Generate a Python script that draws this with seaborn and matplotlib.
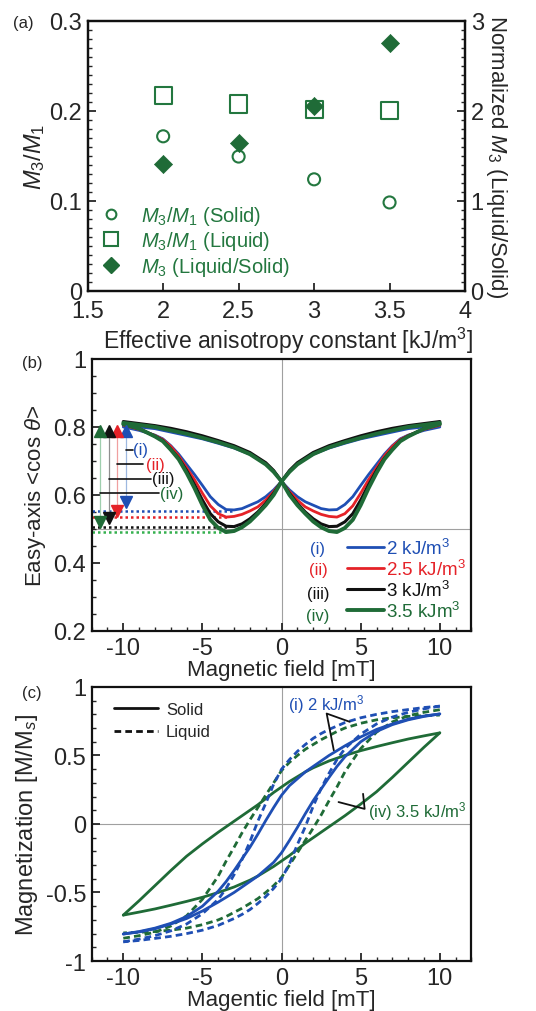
import numpy as np
import matplotlib
matplotlib.use('Agg')
import matplotlib.pyplot as plt
import seaborn as sns
from matplotlib.lines import Line2D
from matplotlib.ticker import MultipleLocator

# ---- panel (a) ----
K_CONST = [2.0, 2.5, 3.0, 3.5]
RATIO_SOLID = [0.1715, 0.149, 0.1237, 0.098]
RATIO_LIQUID = [0.217, 0.2074, 0.2015, 0.200]
M3_NORM = [1.41, 1.64, 2.05, 2.75]

# ---- panel (b): <cos theta>, field swept upward (the down sweep is the mirror) ----
FIELD_B = [-10, -9, -8, -7, -6, -5, -4, -3, -2, -1, -0.5,
           0, 0.5, 1, 1.5, 2, 2.5, 3, 3.5, 4, 4.5, 5, 5.5, 6, 6.5, 7, 7.5, 8, 9, 10]
COS_2 = [0.803, 0.800, 0.795, 0.785, 0.775, 0.765, 0.752, 0.738, 0.720, 0.692, 0.670,
         0.640, 0.615, 0.595, 0.580, 0.570, 0.560, 0.556, 0.557, 0.572, 0.595, 0.628,
         0.660, 0.690, 0.720, 0.745, 0.765, 0.776, 0.790, 0.800]
COS_25 = [0.810, 0.806, 0.800, 0.792, 0.782, 0.770, 0.757, 0.742, 0.722, 0.693, 0.670,
          0.640, 0.610, 0.585, 0.565, 0.553, 0.543, 0.537, 0.535, 0.545, 0.568, 0.605,
          0.645, 0.680, 0.715, 0.743, 0.763, 0.775, 0.793, 0.805]
COS_3 = [0.816, 0.810, 0.804, 0.796, 0.786, 0.774, 0.760, 0.745, 0.725, 0.695, 0.672,
         0.640, 0.605, 0.575, 0.550, 0.530, 0.515, 0.507, 0.508, 0.521, 0.545, 0.585,
         0.630, 0.672, 0.708, 0.735, 0.760, 0.773, 0.795, 0.808]
COS_35 = [0.812, 0.806, 0.800, 0.790, 0.780, 0.768, 0.755, 0.740, 0.720, 0.690, 0.668,
          0.640, 0.600, 0.570, 0.545, 0.522, 0.505, 0.494, 0.491, 0.503, 0.527, 0.570,
          0.620, 0.665, 0.705, 0.733, 0.758, 0.772, 0.795, 0.808]
K_LABELS = ['2 kJ/m$^3$', '2.5 kJ/m$^3$', '3 kJ/m$^3$', '3.5 kJm$^3$']
ROMAN = ['(i)', '(ii)', '(iii)', '(iv)']
MIN_COS = [0.553, 0.535, 0.507, 0.491]
MIN_FIELD = [-3.1, -3.4, -3.3, -3.4]
ARROW_X = [-9.85, -10.38, -10.9, -11.47]
ARROW_TOP = 0.788
ARROW_BOTTOM = [0.578, 0.553, 0.531, 0.521]
ROMAN_Y = [0.733, 0.691, 0.647, 0.605]
ROMAN_LINE_END = [-9.4, -8.76, -8.28, -7.77]
ROMAN_TEXT_X = [-8.9, -7.98, -7.45, -6.95]
LEGEND_ROW_Y = [0.4415, 0.380, 0.310, 0.246]

# ---- panel (c): magnetisation, field swept downward (up sweep is point mirror) ----
FIELD_C = [-10, -9, -8, -7, -6, -5, -4, -3.5, -3, -2.5, -2, -1.5, -1, -0.5,
           0, 0.5, 1, 1.5, 2, 2.5, 3, 3.5, 4, 5, 6, 7, 8, 9, 10]
M_SOLID_2 = [-0.803, -0.785, -0.760, -0.725, -0.675, -0.600, -0.490, -0.420, -0.340,
             -0.255, -0.170, -0.075, 0.025, 0.120, 0.210, 0.280, 0.330, 0.380, 0.420,
             0.460, 0.500, 0.535, 0.570, 0.635, 0.690, 0.730, 0.765, 0.788, 0.803]
M_LIQUID_2 = [-0.860, -0.840, -0.815, -0.780, -0.730, -0.655, -0.550, -0.470, -0.370,
              -0.260, -0.130, 0.020, 0.150, 0.290, 0.400, 0.470, 0.530, 0.580, 0.625,
              0.660, 0.690, 0.715, 0.740, 0.775, 0.800, 0.820, 0.835, 0.850, 0.860]
M_SOLID_35 = [-0.665, -0.560, -0.450, -0.340, -0.235, -0.145, -0.060, -0.020, 0.020,
              0.060, 0.100, 0.140, 0.185, 0.230, 0.270, 0.310, 0.345, 0.380, 0.410,
              0.435, 0.460, 0.480, 0.500, 0.535, 0.565, 0.593, 0.620, 0.643, 0.665]
M_LIQUID_35 = [-0.834, -0.815, -0.790, -0.745, -0.670, -0.550, -0.380, -0.270, -0.170,
               -0.065, 0.030, 0.120, 0.210, 0.300, 0.390, 0.450, 0.500, 0.545, 0.580,
               0.615, 0.645, 0.675, 0.700, 0.735, 0.760, 0.775, 0.785, 0.790, 0.795]

GREEN_A = '#23773f'
BLUE = '#1f4fb4'
RED = '#e52228'
BLACK = '#111111'
GREEN = '#1f6b37'
GREEN_DOT = '#35b04f'
DASH = (0, (2.4, 1.5))

sns.set_style('ticks')
plt.rcParams['font.family'] = ['Liberation Sans', 'DejaVu Sans']
plt.rcParams['mathtext.fontset'] = 'custom'
plt.rcParams['mathtext.rm'] = 'Liberation Sans'
plt.rcParams['mathtext.it'] = 'Liberation Sans:italic'
plt.rcParams['axes.unicode_minus'] = False

TICK_FS = 17
LABEL_FS = 16


def style_axis(ax):
    ax.tick_params(which='both', direction='in')
    ax.tick_params(which='major', length=6, width=1.3, labelsize=TICK_FS, pad=4)
    ax.tick_params(which='minor', length=3, width=1.0)
    for s in ax.spines.values():
        s.set_linewidth(1.6)
        s.set_color('#111111')


fig = plt.figure(figsize=(5.36, 10.12), dpi=100)

# ================= (a) =================
ax_a = fig.add_axes([0.1636, 0.7118, 0.704, 0.2668])
sns.scatterplot(x=K_CONST, y=RATIO_SOLID, ax=ax_a, marker='o', s=75,
                facecolor='none', edgecolor=GREEN_A, linewidth=1.5)
sns.scatterplot(x=K_CONST, y=RATIO_LIQUID, ax=ax_a, marker='s', s=150,
                facecolor='none', edgecolor=GREEN_A, linewidth=1.5)
ax_a.set_xlim(1.5, 4)
ax_a.set_ylim(0, 0.3)
ax_a.yaxis.set_minor_locator(MultipleLocator(0.01))
ax_a.set_xticks([1.5, 2, 2.5, 3, 3.5, 4])
ax_a.set_xticklabels(['1.5', '2', '2.5', '3', '3.5', '4'])
ax_a.set_yticks([0, 0.1, 0.2, 0.3])
ax_a.set_yticklabels(['0', '0.1', '0.2', '0.3'])
ax_a.set_xlabel('Effective anisotropy constant [kJ/m$^3$]', fontsize=16.5)
style_axis(ax_a)
ax_a.tick_params(axis='x', which='major', pad=7)
ax_a.xaxis.set_label_coords(0.53, -0.125)
ax_a.set_ylabel('$M_3/M_1$', fontsize=17, labelpad=2)

ax_a2 = ax_a.twinx()
sns.scatterplot(x=K_CONST, y=M3_NORM, ax=ax_a2, marker='D', s=85,
                color=GREEN, edgecolor=GREEN, linewidth=0.5)
ax_a2.set_ylim(0, 3)
ax_a2.yaxis.set_minor_locator(MultipleLocator(0.1))
ax_a2.set_yticks([0, 1, 2, 3])
ax_a2.set_yticklabels(['0', '1', '2', '3'])
ax_a2.set_ylabel('Normalized $M_3$ (Liquid/Solid)', fontsize=16,
                 rotation=270, labelpad=18)
style_axis(ax_a2)
ax_a2.tick_params(axis='x', which='both', top=False)

handles_a = [
    Line2D([], [], ls='none', marker='o', ms=7, mfc='none', mec=GREEN_A, mew=1.5),
    Line2D([], [], ls='none', marker='s', ms=10, mfc='none', mec=GREEN_A, mew=1.5),
    Line2D([], [], ls='none', marker='D', ms=8, mfc=GREEN, mec=GREEN),
]
labels_a = ['$M_3/M_1$ (Solid)', '$M_3/M_1$ (Liquid)', '$M_3$ (Liquid/Solid)']
ax_a2.legend(handles_a, labels_a, loc='lower left', bbox_to_anchor=(-0.03, -0.005),
             frameon=False, fontsize=14.5, labelcolor=GREEN_A, handletextpad=0.5,
             labelspacing=0.12, borderaxespad=0.3)
fig.text(0.024, 0.977, '(a)', fontsize=12, va='center')

# ================= (b) =================
ax_b = fig.add_axes([0.171, 0.3755, 0.7086, 0.2688])
ax_b.axvline(0, color='#a0a0a0', lw=0.8, zorder=0)
ax_b.axhline(0.5, color='#a0a0a0', lw=0.8, zorder=0)
field_b = np.array(FIELD_B)
series_b = [COS_2, COS_25, COS_3, COS_35]
colors_b = [BLUE, RED, BLACK, GREEN]
widths_b = [2.0, 2.0, 2.2, 2.8]
dot_colors = [BLUE, RED, BLACK, GREEN_DOT]
light_colors = ['#9db8e0', '#f0a0a0', '#909090', '#9fcfae']
for vals, col, lw in zip(series_b, colors_b, widths_b):
    sns.lineplot(x=field_b, y=vals, ax=ax_b, color=col, lw=lw, sort=False, estimator=None)
    sns.lineplot(x=-field_b, y=vals, ax=ax_b, color=col, lw=lw, sort=False, estimator=None)

for i in range(4):
    ax_b.plot([-12, MIN_FIELD[i]], [MIN_COS[i], MIN_COS[i]], ls=(0, (1, 1.2)),
              lw=1.8, color=dot_colors[i], zorder=1)
    ax_b.plot([ARROW_X[i], ARROW_X[i]], [ARROW_TOP, ARROW_BOTTOM[i]], lw=0.9,
              color=light_colors[i], zorder=1)
    ax_b.plot(ARROW_X[i], ARROW_TOP, marker='^', ms=8, color=colors_b[i], ls='none')
    ax_b.plot(ARROW_X[i], ARROW_BOTTOM[i], marker='v', ms=8, color=colors_b[i], ls='none')
    ax_b.plot([ARROW_X[i], ROMAN_LINE_END[i]], [ROMAN_Y[i], ROMAN_Y[i]],
              lw=1.2, color=BLACK)
    ax_b.text(ROMAN_TEXT_X[i], ROMAN_Y[i], ROMAN[i], color=colors_b[i], fontsize=12,
              ha='center', va='center')

ax_b.set_xlim(-12, 12)
ax_b.set_ylim(0.2, 1.0)
ax_b.set_xticks([-10, -5, 0, 5, 10])
ax_b.set_xticklabels(['-10', '-5', '0', '5', '10'])
ax_b.xaxis.set_minor_locator(MultipleLocator(1))
ax_b.set_yticks([0.2, 0.4, 0.6, 0.8, 1.0])
ax_b.set_yticklabels(['0.2', '0.4', '0.6', '0.8', '1'])
ax_b.yaxis.set_minor_locator(MultipleLocator(0.05))
ax_b.set_xlabel('Magnetic field [mT]', fontsize=LABEL_FS, labelpad=0)
ax_b.set_ylabel(r'Easy-axis <cos $\theta$>', fontsize=LABEL_FS, labelpad=4)
style_axis(ax_b)

handles_b = [Line2D([], [], color=c, lw=lw) for c, lw in zip(colors_b, widths_b)]
ax_b.legend(handles_b, K_LABELS, loc='lower right', bbox_to_anchor=(1.03, -0.025),
            frameon=False, fontsize=13.5, labelcolor=colors_b, handlelength=2.0,
            handletextpad=0.1, labelspacing=0.05)
for i in range(4):
    ax_b.text(2.3, LEGEND_ROW_Y[i], ROMAN[i], color=colors_b[i], fontsize=12,
              ha='center', va='center')
fig.text(0.041, 0.641, '(b)', fontsize=12, va='center')

# ================= (c) =================
ax_c = fig.add_axes([0.171, 0.0494, 0.7086, 0.2708])
ax_c.axvline(0, color='#a0a0a0', lw=0.8, zorder=0)
ax_c.axhline(0, color='#a0a0a0', lw=0.8, zorder=0)
field_c = np.array(FIELD_C)
loops = [
    (M_SOLID_35, GREEN, '-'),
    (M_LIQUID_35, GREEN, DASH),
    (M_SOLID_2, BLUE, '-'),
    (M_LIQUID_2, BLUE, DASH),
]
for vals, col, ls in loops:
    vals = np.array(vals)
    sns.lineplot(x=field_c, y=vals, ax=ax_c, color=col, lw=2.0, ls=ls,
                 sort=False, estimator=None)
    sns.lineplot(x=-field_c, y=-vals, ax=ax_c, color=col, lw=2.0, ls=ls,
                 sort=False, estimator=None)

ax_c.plot([4.3, 2.85, 3.3], [0.746, 0.806, 0.538], color=BLACK, lw=1.3)
ax_c.text(0.4, 0.88, '(i) 2 kJ/m$^3$', color=BLUE, fontsize=12, va='center')
ax_c.plot([3.6, 5.25, 5.15], [0.16, 0.11, 0.22], color=BLACK, lw=1.3)
ax_c.text(5.45, 0.095, '(iv) 3.5 kJ/m$^3$', color=GREEN, fontsize=12, va='center')

ax_c.set_xlim(-12, 12)
ax_c.set_ylim(-1, 1)
ax_c.set_xticks([-10, -5, 0, 5, 10])
ax_c.set_xticklabels(['-10', '-5', '0', '5', '10'])
ax_c.xaxis.set_minor_locator(MultipleLocator(1))
ax_c.set_yticks([-1, -0.5, 0, 0.5, 1])
ax_c.set_yticklabels(['-1', '-0.5', '0', '0.5', '1'])
ax_c.yaxis.set_minor_locator(MultipleLocator(0.1))
ax_c.set_xlabel('Magentic field [mT]', fontsize=LABEL_FS, labelpad=0)
ax_c.set_ylabel('Magnetization [M/M$_s$]', fontsize=17, labelpad=4)
style_axis(ax_c)

handles_c = [Line2D([], [], color=BLACK, lw=2.0, ls='-'),
             Line2D([], [], color=BLACK, lw=2.0, ls=DASH)]
ax_c.legend(handles_c, ['Solid', 'Liquid'], loc='upper left', bbox_to_anchor=(0.02, 1.0),
            frameon=False, fontsize=12, handlelength=2.6, handletextpad=0.5,
            labelspacing=0.45)
fig.text(0.041, 0.315, '(c)', fontsize=12, va='center')

fig.savefig('out.png', dpi=100)
